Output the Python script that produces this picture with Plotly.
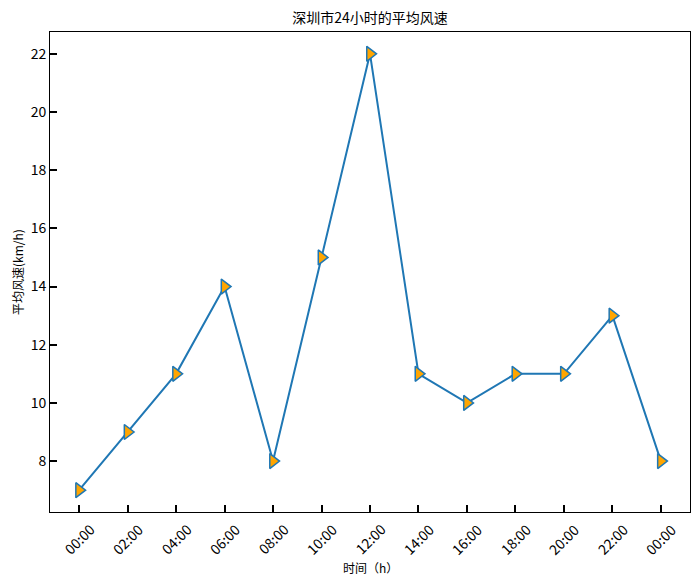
import plotly.graph_objects as go

hours = ["00:00", "02:00", "04:00", "06:00", "08:00", "10:00", "12:00",
         "14:00", "16:00", "18:00", "20:00", "22:00", "00:00"]
speeds = [7, 9, 11, 14, 8, 15, 22, 11, 10, 11, 11, 13, 8]
y_ticks = [8, 10, 12, 14, 16, 18, 20, 22]

xs = list(range(len(hours)))
FONT = "Noto Sans CJK SC"

fig = go.Figure()
fig.add_trace(go.Scatter(
    x=xs, y=speeds, mode="lines+markers",
    line=dict(color="#1f77b4", width=2),
    marker=dict(symbol="triangle-right", size=13, color="orange",
                line=dict(color="#1f77b4", width=1.5)),
    showlegend=False,
))

annotations = []
for i, lab in enumerate(hours):
    annotations.append(dict(
        x=i, y=0, xref="x", yref="paper", text=lab, showarrow=False,
        textangle=-45, xanchor="center", yanchor="top", yshift=-5,
        font=dict(family=FONT, size=14, color="black"),
    ))
annotations.append(dict(
    x=0.5, y=0, xref="paper", yref="paper", text="时间（h）", showarrow=False,
    xanchor="center", yanchor="middle", yshift=-55,
    font=dict(family=FONT, size=12, color="black"),
))
annotations.append(dict(
    x=0, y=0.5, xref="paper", yref="paper", text="平均风速(km/h)", showarrow=False,
    textangle=-90, xanchor="center", yanchor="middle", xshift=-33,
    font=dict(family=FONT, size=12, color="black"),
))

fig.update_layout(
    width=700, height=585,
    margin=dict(l=50, r=10, t=32, b=73),
    paper_bgcolor="white", plot_bgcolor="white",
    font=dict(family=FONT, color="black"),
    title=dict(text="深圳市24小时的平均风速", x=370/700, xanchor="center",
               y=1-18/585, yanchor="middle", font=dict(size=14, family=FONT)),
    annotations=annotations,
)
fig.update_xaxes(
    range=[-0.6, 12.6], tickmode="array", tickvals=xs, showticklabels=False,
    ticks="inside", ticklen=7, tickwidth=2, tickcolor="black",
    showline=True, linecolor="black", linewidth=1, mirror=True,
    showgrid=False, zeroline=False, automargin=False,
)
fig.update_yaxes(
    range=[6.25, 22.75], tickmode="array", tickvals=y_ticks,
    ticks="inside", ticklen=7, tickwidth=2, tickcolor="black",
    showline=True, linecolor="black", linewidth=1, mirror=True,
    showgrid=False, zeroline=False, automargin=False,
    tickfont=dict(size=14, family=FONT),
)

fig.write_html("out.html", config={"displayModeBar": False},
               post_script="document.body.style.margin='0';")
